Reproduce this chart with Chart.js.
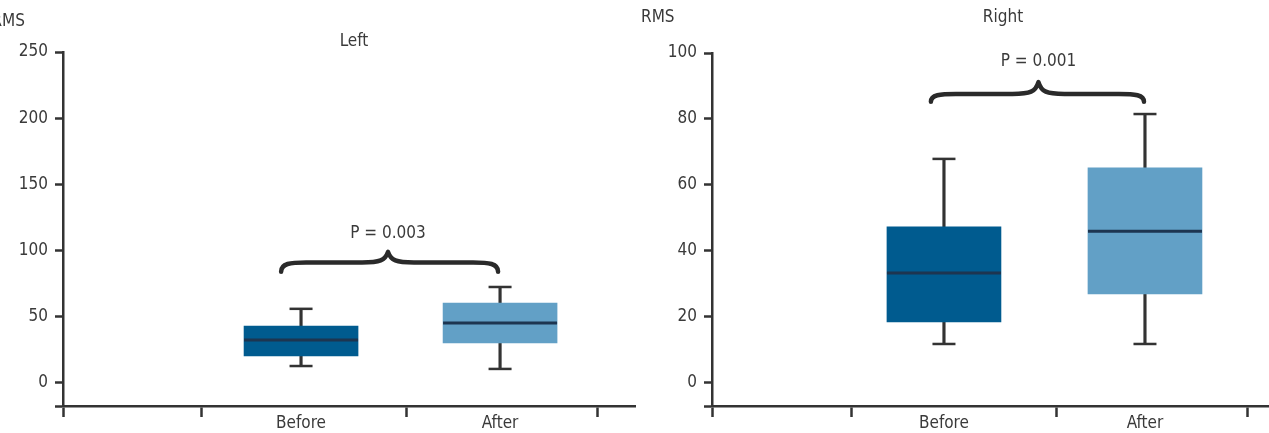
<!DOCTYPE html>
<html>
<head>
<meta charset="utf-8">
<script src="https://cdn.jsdelivr.net/npm/chart.js@4.4.1/dist/chart.umd.min.js"></script>
<style>
  html, body { margin: 0; padding: 0; background: #ffffff; }
  canvas { position: absolute; top: 0; }
</style>
</head>
<body>
<canvas id="leftChart" width="640" height="433" style="left:0px"></canvas>
<canvas id="rightChart" width="629" height="433" style="left:640px"></canvas>
<script>
// ---- data ----
const categories = ['Before', 'After'];
const boxColors = ['#005b8f', '#62a0c6'];

const leftMin    = [12.8, 10.6];
const leftQ1     = [20.4, 30.2];
const leftMedian = [32.5, 45.3];
const leftQ3     = [43.0, 60.4];
const leftMax    = [56.0, 72.5];
const leftTicks  = [0, 50, 100, 150, 200, 250];
const leftDividers = [0.5, 1.53, 2.49];
const leftP      = 'P = 0.003';

const rightMin    = [11.8, 11.8];
const rightQ1     = [18.5, 27.0];
const rightMedian = [33.3, 46.0];
const rightQ3     = [47.3, 65.2];
const rightMax    = [67.9, 81.5];
const rightTicks  = [0, 20, 40, 60, 80, 100];
const rightDividers = [0.54, 1.56, 2.51];
const rightP      = 'P = 0.001';

const panelTitles = ['Left', 'Right'];
const axisTitle = 'RMS';

// ---- rendering ----
const FONT = '"Liberation Sans Narrow", "DejaVu Sans Condensed", "Liberation Sans", sans-serif';
const FSIZE = 17;
const INK = '#333333';
const TEXT = '#3a3a3a';

const annotPlugin = {
  id: 'annot',
  afterDraw(chart, args, a) {
    const ctx = chart.ctx;
    const xs = chart.scales.x, ys = chart.scales.y;
    ctx.save();
    ctx.font = FSIZE + 'px ' + FONT;
    ctx.fillStyle = TEXT;
    ctx.textBaseline = 'middle';
    ctx.textAlign = 'center';
    ctx.fillText(a.title, a.titlePos[0], a.titlePos[1]);
    ctx.textAlign = a.rmsAlign;
    ctx.fillText(axisTitle, a.rmsPos[0], a.rmsPos[1]);

    // curly brace between the two boxes
    const L = xs.getPixelForValue(a.braceX[0]);
    const M = xs.getPixelForValue(a.braceX[1]);
    const R = xs.getPixelForValue(a.braceX[2]);
    const yE = ys.getPixelForValue(a.braceY[0]);
    const yA = ys.getPixelForValue(a.braceY[1]);
    const yP = ys.getPixelForValue(a.braceY[2]);
    ctx.strokeStyle = '#2a2a2a';
    ctx.lineWidth = 4.5;
    ctx.lineCap = 'round';
    ctx.lineJoin = 'round';
    ctx.beginPath();
    ctx.moveTo(L - 1, yE);
    ctx.bezierCurveTo(L - 1, yA + 1, L + 8, yA, L + 24, yA);
    ctx.lineTo(M - 26, yA);
    ctx.bezierCurveTo(M - 8, yA, M - 3, yA - 2, M, yP);
    ctx.bezierCurveTo(M + 3, yA - 2, M + 8, yA, M + 26, yA);
    ctx.lineTo(R - 24, yA);
    ctx.bezierCurveTo(R - 8, yA, R + 1, yA + 1, R + 1, yE);
    ctx.stroke();

    ctx.textAlign = 'center';
    ctx.fillStyle = TEXT;
    ctx.fillText(a.pText, M, ys.getPixelForValue(a.pY));
    ctx.restore();
  }
};

function buildChart(id, o) {
  const xs = categories.map((_, i) => i + 1);
  const caps = [];
  xs.forEach((x, i) => { caps.push({x: x, y: o.min[i]}); caps.push({x: x, y: o.max[i]}); });
  return new Chart(document.getElementById(id), {
    type: 'bar',
    data: {
      datasets: [
        { type: 'bar', data: xs.map((x, i) => ({x: x, y: [o.min[i], o.max[i]]})),
          backgroundColor: INK, barThickness: 2.5, grouped: false, order: 3 },
        { type: 'bar', data: xs.map((x, i) => ({x: x, y: [o.q1[i], o.q3[i]]})),
          backgroundColor: boxColors, barThickness: 114, grouped: false, order: 2 },
        { type: 'scatter', data: xs.map((x, i) => ({x: x, y: o.median[i]})),
          pointStyle: 'line', pointRadius: 57, borderWidth: 3, borderColor: '#1d3550', order: 1 },
        { type: 'scatter', data: caps,
          pointStyle: 'line', pointRadius: 11.5, borderWidth: 2.5, borderColor: INK, order: 1 }
      ]
    },
    options: {
      responsive: false,
      animation: false,
      events: [],
      layout: { autoPadding: false, padding: { top: o.top, left: 0, right: o.right, bottom: 0 } },
      plugins: {
        legend: { display: false },
        tooltip: { enabled: false },
        annot: o.annot
      },
      scales: {
        x: {
          type: 'linear', offset: false, min: o.xMin, max: o.xMax,
          afterFit: s => { s.height = 27; },
          afterBuildTicks: s => {
            s.ticks = [o.xMin].concat(o.dividers, xs).sort((a, b) => a - b).map(v => ({value: v}));
          },
          grid: { drawOnChartArea: false, offset: false, tickLength: 11, tickWidth: 2.5,
                  tickColor: c => (c.tick && xs.includes(c.tick.value)) ? 'rgba(0,0,0,0)' : INK },
          border: { color: INK, width: 2.5 },
          ticks: { autoSkip: false, maxRotation: 0, padding: -4, color: TEXT,
                   font: { family: FONT, size: FSIZE },
                   callback: v => xs.includes(v) ? categories[v - 1] : '' }
        },
        y: {
          type: 'linear', min: o.yMin, max: o.yMax,
          afterFit: s => { s.width = o.axisWidth; },
          afterBuildTicks: s => { s.ticks = [o.yMin].concat(o.ticks).map(v => ({value: v})); },
          grid: { drawOnChartArea: false, tickLength: 8, tickWidth: 2.5, tickColor: INK },
          border: { color: INK, width: 2.5 },
          ticks: { padding: 7, color: TEXT, font: { family: FONT, size: FSIZE },
                   callback: v => o.ticks.includes(v) ? String(v) : '' }
        }
      }
    },
    plugins: [annotPlugin]
  });
}

buildChart('leftChart', {
  min: leftMin, q1: leftQ1, median: leftMedian, q3: leftQ3, max: leftMax, ticks: leftTicks,
  dividers: leftDividers,
  yMin: -17.4, yMax: 250, xMin: -0.196, xMax: 2.678, top: 52, right: 5, axisWidth: 63,
  annot: { title: panelTitles[0], titlePos: [354, 42], rmsPos: [25, 22], rmsAlign: 'right',
           braceX: [0.905, 1.437, 1.985], braceY: [84, 91, 99], pText: leftP, pY: 113 }
});

buildChart('rightChart', {
  min: rightMin, q1: rightQ1, median: rightMedian, q3: rightQ3, max: rightMax, ticks: rightTicks,
  dividers: rightDividers,
  yMin: -7, yMax: 100, xMin: -0.154, xMax: 2.617, top: 53, right: 0, axisWidth: 72,
  annot: { title: panelTitles[1], titlePos: [363, 18], rmsPos: [1, 18], rmsAlign: 'left',
           braceX: [0.94, 1.47, 1.99], braceY: [85.2, 87.6, 91.2], pText: rightP, pY: 97.3 }
});
</script>
</body>
</html>
